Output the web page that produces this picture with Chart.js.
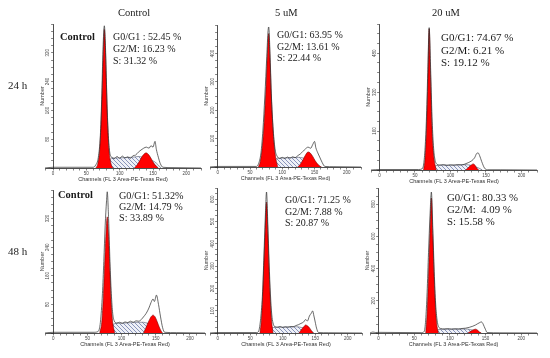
<!DOCTYPE html>
<html>
<head>
<meta charset="utf-8">
<script src="https://cdn.jsdelivr.net/npm/chart.js@4.4.1/dist/chart.umd.min.js"></script>
<style>
body { margin: 0; background: #fff; }
#fig { position: relative; width: 550px; height: 358px; overflow: hidden;
       font-family: "Liberation Serif", "Times New Roman", serif; color: #1a1a1a; }
#fig canvas { position: absolute; }
.t { position: absolute; white-space: pre; font-size: 10.5px; line-height: 12px; }
.b { font-weight: bold; }
</style>
</head>
<body>
<div id="fig"></div>
<script>
/* ===== DNA histograms, cell cycle (24 h / 48 h x Control, 5 uM, 20 uM) ===== */

const columnTitles = ['Control', '5 uM', '20 uM'];
const rowTitles = ['24 h', '48 h'];
const xTickLabels = [0, 50, 100, 150, 200];
const xTitle = 'Channels (FL 3 Area-PE-Texas Red)';

// [channel, count] pairs
// Control 24 h
const c24Outline = [[-12,0],[0,2],[60,2],[64,8],[68,30],[71,90],[73,190],[75,330],[77,395],[79,320],[81,180],[83,90],[85,45],[88,30],[92,26],[96,32],[100,27],[104,33],[108,28],[112,31],[116,27],[120,34],[124,36],[128,44],[132,50],[136,55],[140,58],[144,55],[147,62],[150,58],[153,74],[155,52],[158,30],[161,12],[165,2],[180,1],[222,0]];
const c24G1 = [[64,0],[67,10],[70,50],[72,120],[74,230],[76,350],[77,385],[78,360],[80,240],[82,120],[84,50],[87,12],[90,0]];
const c24S = [[84,0],[86,25],[90,28],[100,28],[110,29],[120,30],[128,32],[134,30],[140,25],[146,22],[152,18],[158,8],[162,0]];
const c24G2 = [[122,0],[126,8],[130,20],[134,33],[138,41],[140,42],[143,38],[147,27],[151,14],[155,5],[158,0]];
const c24Ticks = [80, 160, 240, 320];
const c24Text = ['G0/G1 : 52.45 %', 'G2/M: 16.23 %', 'S: 31.32 %'];

// 5 uM 24 h
const m5h24Outline = [[-12,0],[0,2],[60,2],[63,10],[67,50],[70,130],[73,250],[76,390],[78,480],[79,493],[81,400],[83,260],[86,130],[89,60],[92,38],[96,30],[100,34],[104,30],[108,35],[112,31],[116,36],[120,33],[124,40],[128,46],[132,55],[136,64],[140,70],[144,66],[147,78],[150,90],[152,68],[155,50],[158,35],[162,15],[166,2],[180,1],[222,0]];
const m5h24G1 = [[63,0],[66,20],[69,70],[72,160],[75,290],[77,400],[79,470],[81,380],[83,250],[86,120],[89,45],[93,0]];
const m5h24S = [[88,0],[90,28],[95,31],[105,32],[115,33],[125,34],[132,32],[140,26],[148,18],[155,8],[160,0]];
const m5h24G2 = [[124,0],[128,10],[132,25],[136,42],[140,53],[143,50],[147,38],[151,22],[155,10],[158,3],[161,0]];
const m5h24Ticks = [100, 200, 300, 400];
const m5h24Text = ['G0/G1: 63.95 %', 'G2/M: 13.61 %', 'S: 22.44 %'];

// 20 uM 24 h
const m20h24Outline = [[-12,0],[0,2],[55,2],[60,5],[62,20],[64,80],[66,200],[68,400],[70,585],[72,420],[74,220],[76,100],[78,45],[81,24],[85,20],[90,22],[95,19],[100,21],[105,20],[110,22],[115,21],[120,24],[125,30],[130,38],[134,50],[137,68],[139,70],[141,60],[144,35],[148,8],[152,1],[170,1],[222,0]];
const m20h24G1 = [[62,0],[64,40],[66,150],[68,350],[70,580],[72,380],[74,170],[76,70],[78,25],[80,0]];
const m20h24S = [[77,0],[79,18],[85,20],[95,20],[105,20],[115,21],[122,22],[128,20],[134,15],[140,8],[145,0]];
const m20h24G2 = [[121,0],[124,6],[127,15],[130,22],[132,25],[134,22],[136,13],[138,4],[140,0]];
const m20h24Ticks = [160, 320, 480];
const m20h24Text = ['G0/G1: 74.67 %', 'G2/M: 6.21 %', 'S: 19.12 %'];

// Control 48 h
const c48Outline = [[-12,0],[0,2],[60,2],[66,5],[69,30],[72,110],[74,200],[76,300],[78,370],[79,395],[81,320],[83,200],[85,110],[87,55],[89,35],[93,28],[97,30],[101,27],[105,31],[109,29],[113,33],[117,30],[121,34],[125,33],[129,38],[132,45],[136,55],[140,70],[143,85],[146,95],[148,88],[151,106],[154,80],[157,45],[160,15],[163,2],[180,1],[222,0]];
const c48G1 = [[68,0],[71,30],[73,90],[75,180],[77,270],[79,325],[81,270],[83,170],[85,80],[87,30],[90,0]];
const c48S = [[86,0],[88,25],[95,27],[105,28],[115,29],[125,30],[132,30],[138,27],[145,22],[152,12],[158,0]];
const c48G2 = [[132,0],[135,12],[139,30],[143,45],[146,50],[149,45],[152,32],[155,17],[158,5],[160,0]];
const c48Ticks = [80, 160, 240, 320];
const c48Text = ['G0/G1: 51.32%', 'G2/M: 14.79 %', 'S: 33.89 %'];

// 5 uM 48 h
const m5h48Outline = [[-12,0],[0,2],[60,2],[63,9],[66,65],[69,185],[71,345],[73,510],[75,632],[77,490],[79,315],[81,175],[83,85],[85,45],[88,28],[92,26],[96,29],[100,25],[104,28],[108,26],[112,29],[116,28],[120,33],[124,37],[128,43],[132,49],[135,60],[138,54],[141,76],[144,89],[146,99],[148,76],[150,49],[152,22],[155,2],[170,1],[222,0]];
const m5h48G1 = [[65,0],[67,55],[69,160],[71,315],[73,465],[75,587],[77,455],[79,280],[81,140],[83,50],[85,0]];
const m5h48S = [[82,0],[84,24],[90,26],[100,26],[110,27],[118,28],[125,27],[132,22],[138,15],[144,6],[148,0]];
const m5h48G2 = [[125,0],[127,8],[130,20],[133,30],[135,36],[138,32],[141,24],[144,11],[147,0]];
const m5h48Ticks = [100, 200, 300, 400, 500, 600];
const m5h48Text = ['G0/G1: 71.25 %', 'G2/M: 7.88 %', 'S: 20.87 %'];

// 20 uM 48 h
const m20h48Outline = [[-12,0],[-8,6],[-4,3],[0,4],[60,2],[64,10],[66,80],[68,250],[70,500],[72,720],[74,875],[76,650],[78,380],[80,180],[82,80],[84,40],[87,28],[92,25],[97,27],[102,24],[107,26],[112,25],[117,28],[122,30],[127,35],[132,42],[136,50],[139,58],[142,65],[144,69],[146,60],[148,40],[150,20],[152,3],[170,1],[222,0]];
const m20h48G1 = [[66,0],[68,120],[70,350],[72,620],[74,838],[76,600],[78,330],[80,140],[82,40],[84,0]];
const m20h48S = [[81,0],[83,20],[90,23],[100,24],[110,24],[118,25],[125,24],[132,18],[138,10],[143,0]];
const m20h48G2 = [[125,0],[128,8],[131,16],[134,22],[136,24],[138,20],[140,12],[142,4],[144,0]];
const m20h48Ticks = [200, 400, 600, 800];
const m20h48Text = ['G0/G1: 80.33 %', 'G2/M:  4.09 %', 'S: 15.58 %'];

// layout: x0 = pixel of channel 0, ppc = px per channel, top/bottom of plot
const panels = [
    { outline: c24Outline, g1: c24G1, s: c24S, g2: c24G2, ticks: c24Ticks, ymax: 400, minor: 20,
      x0: 53, ppc: 0.665, top: 24, bottom: 168,
      text: c24Text, tx: 113, ty: 31, lh: 12, fs: 10, tag: { x: 60, y: 31 } },
    { outline: m5h24Outline, g1: m5h24G1, s: m5h24S, g2: m5h24G2, ticks: m5h24Ticks, ymax: 500, minor: 25,
      x0: 218, ppc: 0.645, top: 25, bottom: 167,
      text: m5h24Text, tx: 277, ty: 29, lh: 11.7, fs: 10 },
    { outline: m20h24Outline, g1: m20h24G1, s: m20h24S, g2: m20h24G2, ticks: m20h24Ticks, ymax: 600, minor: 40,
      x0: 380, ppc: 0.71, top: 24, bottom: 170,
      text: m20h24Text, tx: 441, ty: 31, lh: 12.5, fs: 11 },
    { outline: c48Outline, g1: c48G1, s: c48S, g2: c48G2, ticks: c48Ticks, ymax: 400, minor: 20,
      x0: 53, ppc: 0.685, top: 190, bottom: 333,
      text: c48Text, tx: 119, ty: 190, lh: 11, fs: 10.2, tag: { x: 58, y: 189 } },
    { outline: m5h48Outline, g1: m5h48G1, s: m5h48S, g2: m5h48G2, ticks: m5h48Ticks, ymax: 650, minor: 25,
      x0: 218, ppc: 0.65, top: 188, bottom: 333,
      text: m5h48Text, tx: 285, ty: 194, lh: 11.5, fs: 10 },
    { outline: m20h48Outline, g1: m20h48G1, s: m20h48S, g2: m20h48G2, ticks: m20h48Ticks, ymax: 900, minor: 50,
      x0: 379, ppc: 0.715, top: 188, bottom: 333,
      text: m20h48Text, tx: 447, ty: 191, lh: 12, fs: 10.8 }
];

const X_MIN = -12, X_MAX = 222;
const PAD_L = 22, PAD_R = 3, PAD_T = 3, X_AXIS_H = 15;

const fig = document.getElementById('fig');

function hatchPattern() {
    const c = document.createElement('canvas');
    c.width = 4; c.height = 4;
    const g = c.getContext('2d');
    g.fillStyle = '#eef0f7';
    g.fillRect(0, 0, 4, 4);
    g.strokeStyle = '#6f7cab';
    g.lineWidth = 0.8;
    g.beginPath();
    g.moveTo(0, 0); g.lineTo(4, 4);
    g.moveTo(-1, 3); g.lineTo(1, 5);
    g.moveTo(3, -1); g.lineTo(5, 1);
    g.stroke();
    return g.createPattern(c, 'repeat');
}

// rotated y tick labels + "Number", placed with the chart's own scales
const yLabels = {
    id: 'yLabels',
    afterDraw(chart, args, opts) {
        const { ctx, scales: { x, y } } = chart;
        const ax = x.getPixelForValue(0);
        ctx.save();
        ctx.fillStyle = '#444';
        ctx.textAlign = 'center';
        ctx.textBaseline = 'middle';
        ctx.font = '4.5px "Liberation Sans", Arial, sans-serif';
        (opts.ticks || []).forEach(v => {
            ctx.save();
            ctx.translate(ax - 5, y.getPixelForValue(v));
            ctx.rotate(-Math.PI / 2);
            ctx.fillText(String(v), 0, 0);
            ctx.restore();
        });
        ctx.translate(ax - 11, (y.top + y.bottom) / 2);
        ctx.rotate(-Math.PI / 2);
        ctx.font = '5.5px "Liberation Sans", Arial, sans-serif';
        ctx.fillText('Number', 0, 0);
        ctx.restore();
    }
};

const pts = arr => arr.map(p => ({ x: p[0], y: p[1] }));

function addText(str, x, y, cls, size, lh) {
    const d = document.createElement('div');
    d.className = 't' + (cls ? ' ' + cls : '');
    d.style.left = x + 'px';
    d.style.top = y + 'px';
    if (size) d.style.fontSize = size + 'px';
    if (lh) d.style.lineHeight = lh + 'px';
    d.textContent = str;
    fig.appendChild(d);
    return d;
}

panels.forEach(p => {
    const chartW = Math.round((X_MAX - X_MIN) * p.ppc);
    const chartH = p.bottom - p.top;
    const left = Math.round(p.x0 - (0 - X_MIN) * p.ppc) - PAD_L;
    const cv = document.createElement('canvas');
    cv.width = PAD_L + chartW + PAD_R;
    cv.height = PAD_T + chartH + X_AXIS_H;
    cv.style.left = left + 'px';
    cv.style.top = (p.top - PAD_T) + 'px';
    cv.style.width = cv.width + 'px';
    cv.style.height = cv.height + 'px';
    fig.appendChild(cv);

    const line = {
        pointRadius: 0,
        cubicInterpolationMode: 'monotone',
        fill: 'origin'
    };

    new Chart(cv.getContext('2d'), {
        type: 'line',
        data: {
            datasets: [
                { ...line, data: pts(p.outline), borderColor: '#2a2a2a', borderWidth: 0.7, fill: false },
                { ...line, data: pts(p.g1), backgroundColor: '#ff0000', borderColor: '#7a0000', borderWidth: 0.6 },
                { ...line, data: pts(p.g2), backgroundColor: '#ff0000', borderColor: '#7a0000', borderWidth: 0.6 },
                { ...line, data: pts(p.s), backgroundColor: hatchPattern(), borderColor: '#555a6e', borderWidth: 0.6 }
            ]
        },
        options: {
            responsive: false,
            animation: false,
            devicePixelRatio: 1,
            events: [],
            layout: { padding: { left: PAD_L, right: PAD_R, top: PAD_T, bottom: 0 } },
            plugins: {
                legend: { display: false },
                tooltip: { enabled: false },
                yLabels: { ticks: p.ticks }
            },
            scales: {
                x: {
                    type: 'linear',
                    min: X_MIN,
                    max: X_MAX,
                    afterFit: s => { s.height = X_AXIS_H; },
                    grid: { drawOnChartArea: false, tickLength: 2.5, color: '#333', lineWidth: 0.6 },
                    border: { color: '#222', width: 0.8 },
                    ticks: {
                        stepSize: 10,
                        autoSkip: false,
                        maxRotation: 0,
                        padding: 0.5,
                        color: '#444',
                        font: { size: 4.5, family: '"Liberation Sans", Arial, sans-serif' },
                        callback: v => xTickLabels.includes(v) ? String(v) : ''
                    },
                    title: {
                        display: true,
                        text: xTitle,
                        color: '#333',
                        padding: 0,
                        font: { size: 5.5, family: '"Liberation Sans", Arial, sans-serif' }
                    }
                },
                y: {
                    position: { x: 0 },
                    min: 0,
                    max: p.ymax,
                    grid: { drawOnChartArea: false, tickLength: 2, color: '#333', lineWidth: 0.6 },
                    border: { color: '#222', width: 0.8 },
                    ticks: { display: false, stepSize: p.minor }
                }
            }
        },
        plugins: [yLabels]
    });

    if (p.tag) addText('Control', p.tag.x, p.tag.y, 'b', 10.5);
    addText(p.text.join('\n'), p.tx, p.ty, '', p.fs, p.lh);
});

// column and row headings
addText(columnTitles[0], 118, 7, '', 10.5);
addText(columnTitles[1], 275, 7, '', 10.5);
addText(columnTitles[2], 432, 7, '', 10.5);
addText(rowTitles[0], 8, 79, '', 11);
addText(rowTitles[1], 8, 245, '', 11);
</script>
</body>
</html>
